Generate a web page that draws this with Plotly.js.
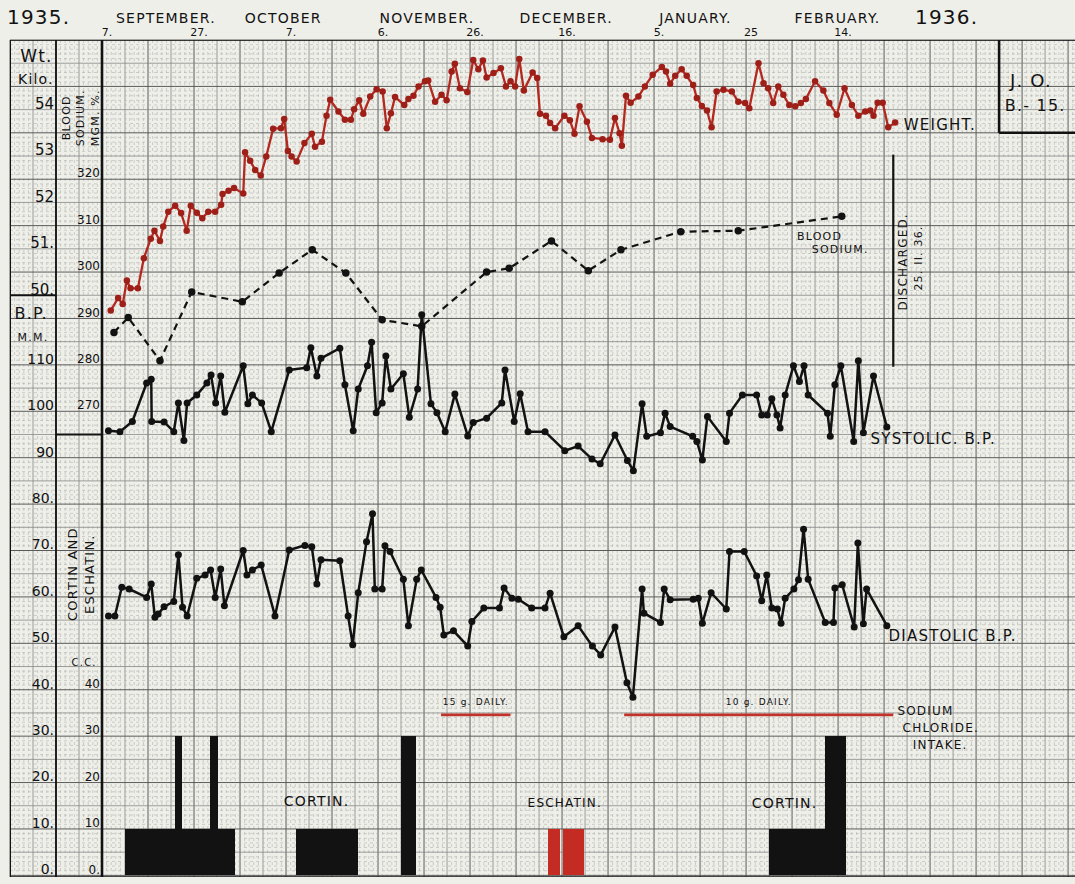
<!DOCTYPE html>
<html><head><meta charset="utf-8">
<script src="https://cdn.plot.ly/plotly-3.0.1.min.js"></script>
<style>html,body{margin:0;padding:0;background:#efefea;}#chart{width:1075px;height:884px;}
#chart .annotation-text{letter-spacing:1.2px;}</style>
</head><body><div id="chart"></div>
<script>
// ---- DATA (days counted from 7 September 1935) ----
const weightDays = [1.9,3.5,4.5,5.4,6.2,7.8,9.1,10.6,11.4,12.6,13.3,14.4,15.9,17.2,18.4,19.3,20.6,21.8,23.1,24.6,25.9,26.2,27.5,28.7,30.7,31.1,32.2,33.3,34.5,35.7,37.2,38.9,39.6,40.4,41.2,42.3,44.0,45.6,46.3,47.8,48.8,49.6,51.4,52.8,54.1,54.8,55.9,56.8,58.3,59.7,61.0,61.9,62.8,63.7,65.7,66.6,67.7,68.8,70.2,70.9,72.4,73.8,74.9,76.0,76.7,77.8,79.4,80.7,81.8,82.8,83.6,85.1,86.7,87.8,88.8,89.8,90.7,91.7,93.6,94.6,95.2,96.5,97.4,98.5,100.5,101.7,102.7,103.8,105.4,106.5,108.8,110.4,111.5,112.5,113.0,113.9,114.9,116.6,118.0,119.7,121.7,122.6,123.5,124.6,126.0,127.1,128.5,129.3,130.4,131.5,132.5,133.6,135.1,136.9,138.3,139.8,140.7,142.7,143.8,144.8,145.9,147.0,148.1,149.4,150.7,151.9,153.0,155.0,156.8,158.1,159.7,161.4,163.0,164.4,165.9,167.0,167.7,168.6,169.7,170.9,172.4];
const weightKg = [49.67,49.94,49.81,50.32,50.15,50.15,50.80,51.22,51.39,51.17,51.48,51.80,51.93,51.77,51.39,51.93,51.78,51.66,51.80,51.80,51.95,52.18,52.25,52.31,52.19,53.08,52.90,52.70,52.58,52.99,53.59,53.60,53.80,53.11,52.99,52.88,53.28,53.48,53.20,53.31,53.87,54.21,53.96,53.78,53.78,54.01,54.20,53.91,54.28,54.44,54.39,53.60,53.92,54.27,54.10,54.23,54.30,54.50,54.61,54.63,54.17,54.32,54.20,54.82,54.99,54.46,54.38,55.07,54.87,55.06,54.69,54.79,54.89,54.50,54.61,54.50,55.09,54.41,54.80,54.68,53.91,53.87,53.71,53.60,53.87,53.77,53.48,54.07,53.74,53.39,53.36,53.35,53.82,53.49,53.22,54.30,54.15,54.28,54.50,54.75,54.92,54.82,54.56,54.73,54.87,54.73,54.53,54.25,54.08,53.98,53.62,54.39,54.43,54.39,54.17,54.14,54.03,55.00,54.57,54.46,54.14,54.50,54.32,54.10,54.07,54.14,54.23,54.61,54.41,54.14,53.89,54.46,54.10,53.87,53.96,53.98,53.87,54.15,54.15,53.62,53.72];

const sodiumDays = [2.6,5.7,12.6,19.5,30.5,38.5,45.7,53.0,60.9,69.5,83.6,88.5,97.7,105.7,112.8,125.8,138.3,160.8];
const sodiumMg = [287.0,290.2,280.9,295.7,293.6,299.8,304.8,299.8,289.7,288.3,300.0,300.8,306.7,300.3,304.8,308.7,308.9,312.0];

const systolicDays = [1.4,3.9,6.6,9.7,10.7,10.8,13.5,15.6,16.6,17.8,18.5,20.6,22.8,23.7,24.7,25.8,26.7,30.7,31.7,32.7,34.7,36.8,40.7,44.5,45.4,46.7,47.6,51.7,52.8,54.6,55.7,57.7,58.6,59.6,60.9,61.7,62.8,65.5,66.8,68.6,69.5,71.5,72.8,74.6,76.7,79.5,80.7,83.6,86.9,87.6,89.6,90.9,92.6,96.3,100.6,103.5,106.5,108.3,111.5,114.2,115.5,117.4,118.4,121.4,122.4,123.5,128.4,129.3,130.5,131.6,135.7,136.4,139.2,142.3,143.4,144.6,145.6,146.7,147.4,148.5,150.3,151.6,152.6,153.5,157.7,158.3,159.3,160.6,163.4,164.4,165.5,167.7,170.6];
const systolicMM = [95.8,95.6,97.8,106.1,106.9,97.8,97.7,95.6,101.8,93.7,101.8,103.5,106.1,107.8,101.8,107.6,99.8,109.8,101.6,103.5,101.8,95.6,108.9,109.4,113.7,107.6,111.4,113.6,105.7,95.8,104.8,109.8,114.9,99.7,101.8,111.9,104.8,108.1,98.7,104.8,120.8,101.6,99.7,95.6,103.7,94.7,97.6,98.5,101.8,108.9,97.8,103.8,95.6,95.6,91.5,92.5,89.7,88.7,94.9,89.4,87.2,101.6,94.6,95.4,99.6,96.7,94.6,93.5,89.5,98.9,93.5,99.6,103.5,103.5,99.2,99.2,102.7,99.2,96.4,103.5,109.8,106.4,109.8,103.5,99.6,94.6,105.7,109.8,93.5,110.9,95.4,107.6,96.6];

const diastolicDays = [1.4,2.8,4.3,5.9,9.7,10.7,11.5,12.2,13.5,15.6,16.6,17.5,18.5,20.6,22.4,23.6,24.6,25.8,26.6,30.7,31.5,32.7,34.6,37.6,40.7,44.1,45.6,46.7,47.6,51.7,53.5,54.5,55.7,57.5,58.8,59.3,60.9,61.5,62.6,65.5,66.6,68.4,69.4,72.6,73.5,74.3,76.4,79.5,80.4,83.0,86.4,87.4,89.1,90.5,93.4,96.3,97.4,100.4,103.5,106.6,108.4,111.5,114.1,115.4,117.4,117.8,121.4,122.2,123.5,128.5,129.6,130.5,132.4,135.7,136.4,139.6,142.3,143.4,144.5,145.6,146.8,147.6,148.5,150.4,151.4,152.5,153.5,157.2,159.0,159.3,160.9,163.5,164.3,165.5,166.2,170.6];
const diastolicMM = [55.9,55.9,62.1,61.7,59.9,62.8,55.6,56.3,57.9,59.0,69.1,57.8,55.9,64.0,64.7,65.8,59.9,66.0,58.1,70.0,64.7,65.8,66.9,55.9,70.1,71.1,70.8,62.8,68.0,67.8,55.9,49.7,60.9,71.9,77.9,61.7,61.7,71.0,69.8,63.8,53.8,63.8,65.8,59.9,57.8,51.8,52.7,49.4,54.7,57.6,57.6,61.9,59.7,59.5,57.6,57.6,60.8,51.4,53.8,49.4,47.5,53.5,41.5,38.4,61.7,56.5,54.5,61.7,59.4,59.5,59.7,54.3,60.9,57.4,69.8,69.8,64.5,59.2,64.7,57.6,57.4,54.3,59.7,61.7,63.7,74.6,63.8,54.5,54.5,61.9,62.6,53.5,71.6,54.2,61.7,53.8];

// Cortin / Eschatin dosage periods (c.c.)
const cortinStart = [5.0, 15.8, 23.5, 42.1, 64.9, 144.9, 157.1];
const cortinEnd   = [29.0, 17.4, 25.2, 55.7, 68.3, 157.1, 161.8];
const cortinCC    = [10, 30, 30, 10, 30, 10, 30];
const eschatinStart = [96.9, 100.3];
const eschatinEnd   = [99.6, 104.7];
const eschatinCC    = [10, 10];

// Sodium chloride intake periods
const saltStart = [73.7, 113.5];
const saltEnd   = [88.8, 172.0];
const saltLabels = ['15 g. DAILY.', '10 g. DAILY.'];

// Tick labels
const dateTickDays = [0, 20, 40, 60, 80, 100, 120, 140, 160];
const dateTickText = ['7.', '27.', '7.', '6.', '26.', '16.', '5.', '25', '14.'];
const months = ['SEPTEMBER.', 'OCTOBER', 'NOVEMBER.', 'DECEMBER.', 'JANUARY.', 'FEBRUARY.'];
const weightTicks = [50, 51, 52, 53, 54];
const weightTickText = ['50.', '51.', '52', '53', '54'];
const bpTicks = [0, 10, 20, 30, 40, 50, 60, 70, 80, 90, 100, 110];
const bpTickText = ['0.', '10.', '20.', '30.', '40.', '50.', '60.', '70.', '80.', '90', '100', '110'];
const sodiumTicks = [270, 280, 290, 300, 310, 320];
const sodiumTickText = ['270', '280', '290', '300', '310', '320'];
const ccTicks = [0, 10, 20, 30, 40];
const ccTickText = ['0.', '10', '20', '30', '40'];

// ---- LAYOUT GEOMETRY ----
const W = 1075, H = 884;
const M = {l: 10, r: 0, t: 40, b: 7};
const PW = W - M.l - M.r, PH = H - M.t - M.b;
const xRange = [-20, 211.5];
const bpRange = [-0.35, 180];
const weightRange = bpRange.map(v => 50 + (v - 125) / 10);
const sodiumRange = bpRange.map(v => v + 170);
const fx = d => (d - xRange[0]) / (xRange[1] - xRange[0]);
const fy = v => (v - bpRange[0]) / (bpRange[1] - bpRange[0]);
const posA = fx(-10), posB = fx(0);
const INK = '#121212';
const RED = '#b3281f';
const FONT = 'DejaVu Sans, Liberation Sans, sans-serif';
const px = x => (x - M.l) / PW;
const py = y => (H - M.b - y) / PH;

const traces = [];
traces.push({type:'bar', x: cortinStart.map((s,i)=>(s+cortinEnd[i])/2), width: cortinStart.map((s,i)=>cortinEnd[i]-s),
  y: cortinCC, yaxis:'y5', marker:{color:INK}, hoverinfo:'skip'});
traces.push({type:'bar', x: eschatinStart.map((s,i)=>(s+eschatinEnd[i])/2), width: eschatinStart.map((s,i)=>eschatinEnd[i]-s),
  y: eschatinCC, yaxis:'y5', marker:{color:'#c42b22'}, hoverinfo:'skip'});
const saltX = [], saltY = [];
const SALT_LEVEL = 34.6;
saltStart.forEach((s,i)=>{ saltX.push(s, saltEnd[i], null); saltY.push(SALT_LEVEL, SALT_LEVEL, null); });
traces.push({type:'scatter', mode:'lines', x: saltX, y: saltY, yaxis:'y5', line:{color:'#c0332a', width:2.8}, hoverinfo:'skip'});
traces.push({type:'scatter', mode:'lines+markers', x: sodiumDays, y: sodiumMg, yaxis:'y4',
  line:{color:INK, width:2.2, dash:'7px,5px'}, marker:{color:INK, size:7.5}});
traces.push({type:'scatter', mode:'lines+markers', x: systolicDays, y: systolicMM, yaxis:'y2',
  line:{color:INK, width:2.5}, marker:{color:INK, size:7}});
traces.push({type:'scatter', mode:'lines+markers', x: diastolicDays, y: diastolicMM, yaxis:'y2',
  line:{color:INK, width:2.5}, marker:{color:INK, size:7}});
traces.push({type:'scatter', mode:'lines+markers', x: weightDays, y: weightKg, yaxis:'y3',
  line:{color:RED, width:2.3}, marker:{color:'#9e1f18', size:6.5}});

const gridMajor = '#5a5a5a', gridMid = '#868686', gridMinor = '#b4b4af';
const labelAxis = (range, ticks, text, pos, size) => ({
  overlaying:'y', anchor:'free', position:pos, side:'left', range:range, tickmode:'array',
  tickvals:ticks, ticktext:text, showgrid:false, zeroline:false, showline:false, ticks:'',
  ticklabelstandoff:2, ticklabelshift:-6,
  tickfont:{family:FONT, size:size, color:INK}, fixedrange:true
});

const ann = [];
const A = (text, x, y, size, o={}) => ann.push(Object.assign({text, x:px(x), y:py(y), xref:'paper', yref:'paper',
  showarrow:false, font:{family:FONT, size:size, color:INK}, xanchor:'center', yanchor:'middle'}, o));
A('1935.', 38, 17, 20);
A('1936.', 946, 17, 20);
const monthX = [166, 283, 427, 566, 695, 837];
months.forEach((m,i)=>A(m, monthX[i], 18, 14));
A('Wt.', 36, 56, 17);
A('Kilo.', 36, 79, 14);
A('B.P.', 31, 313, 16);
A('M.M.', 33, 337, 11);
A('C.C.', 84, 662, 10);
A('BLOOD<br>SODIUM.<br>MGM. %.', 81, 118, 11, {textangle:-90});
A('CORTIN AND<br>ESCHATIN.', 81, 574, 13, {textangle:-90});
A('WEIGHT.', 906, 125, 15, {xanchor:'left'});
A('BLOOD', 819, 236, 11);
A('SODIUM.', 840, 249, 11);
A('SYSTOLIC. B.P.', 877, 439, 15, {xanchor:'left'});
A('DIASTOLIC B.P.', 895, 636, 15, {xanchor:'left'});
A('SODIUM', 899, 711, 12, {xanchor:'left'});
A('CHLORIDE.', 906, 728, 12, {xanchor:'left'});
A('INTAKE.', 915, 745, 12, {xanchor:'left'});
saltLabels.forEach((t,i)=>ann.push({text:t, x:(saltStart[i]+saltEnd[i])/2, y:SALT_LEVEL, xref:'x', yref:'y5',
  yshift:13, showarrow:false, font:{family:FONT, size:9, color:INK}}));
A('CORTIN.', 316, 801, 14);
A('ESCHATIN.', 565, 803, 12);
A('CORTIN.', 784, 803, 14);
A('J. O.', 1030, 81, 18);
A('B.- 15.', 1035, 105, 16);
A('DISCHARGED.', 903, 262, 12, {textangle:-90});
A('25. II. 36.', 918, 258, 11, {textangle:-90});

// graph-paper rulings drawn as shapes beneath everything
const G = (x0,y0,x1,y1,w,color,dash) => ({type:'line', xref:'paper', yref:'paper', x0, y0, x1, y1, layer:'below',
  line:{color, width:w, dash:dash||'solid'}});
const shapes = [];
for (let d = -20; d <= xRange[1]; d += 1) {
  const m10 = d % 10 === 0, m5 = d % 5 === 0;
  shapes.push(G(fx(d), 0, fx(d), 1, m10 ? 1 : (m5 ? 0.8 : 0.6), m10 ? gridMajor : (m5 ? gridMid : gridMinor), (m5 ? 'solid' : 'dot')));
}
for (let v = 0; v <= bpRange[1]; v += 1) {
  const m10 = v % 10 === 0, m5 = v % 5 === 0;
  shapes.push(G(0, fy(v), 1, fy(v), m10 ? 1 : (m5 ? 0.8 : 0.6), m10 ? gridMajor : (m5 ? gridMid : gridMinor), (m5 ? 'solid' : 'dot')));
}
// heavy ink rulings of the chart form
const L = (x0,y0,x1,y1,w) => ({type:'line', xref:'x', yref:'y', x0, y0, x1, y1, layer:'above', line:{color:INK, width:w}});
shapes.push(
  L(xRange[0], bpRange[1], xRange[1], bpRange[1], 1.6),
  L(xRange[0], bpRange[0], xRange[1], bpRange[0], 1.4),
  L(-20, bpRange[0], -20, bpRange[1], 2),
  L(-10, bpRange[0], -10, bpRange[1], 1.8),
  L(0, bpRange[0], 0, bpRange[1], 2.6),
  L(-20, 125, -10, 125, 2.2),
  L(-10, 95, 0, 95, 2.2),
  L(195, 160, 195, bpRange[1], 2.6),
  L(195, 160, xRange[1], 160, 2.6),
  L(172, 109.6, 172, 155.3, 2.2)
);

const layout = {
  width:W, height:H, margin:M, showlegend:false, barmode:'overlay', bargap:0,
  paper_bgcolor:'#efefea', plot_bgcolor:'rgba(0,0,0,0)', font:{family:FONT, color:INK},
  xaxis:{range:xRange, showgrid:false, showticklabels:false, ticks:'', zeroline:false, showline:false, fixedrange:true},
  xaxis2:{overlaying:'x', side:'top', range:xRange, tickmode:'array', tickvals:dateTickDays, ticktext:dateTickText,
    showgrid:false, zeroline:false, ticks:'', ticklabelshift:5, ticklabelstandoff:1,
    tickfont:{family:FONT, size:11, color:INK}, fixedrange:true},
  yaxis:{range:bpRange, showgrid:false, showticklabels:false, ticks:'', zeroline:false, showline:false, fixedrange:true},
  yaxis2: labelAxis(bpRange, bpTicks, bpTickText, posA, 14),
  yaxis3: labelAxis(weightRange, weightTicks, weightTickText, posA, 15),
  yaxis4: labelAxis(sodiumRange, sodiumTicks, sodiumTickText, posB, 12),
  yaxis5: labelAxis(bpRange, ccTicks, ccTickText, posB, 12),
  shapes, annotations: ann
};
traces.unshift({type:'scatter', x:[null], y:[null], xaxis:'x2', hoverinfo:'skip'});
Plotly.newPlot('chart', traces, layout, {staticPlot:true, displayModeBar:false});
</script></body></html>
